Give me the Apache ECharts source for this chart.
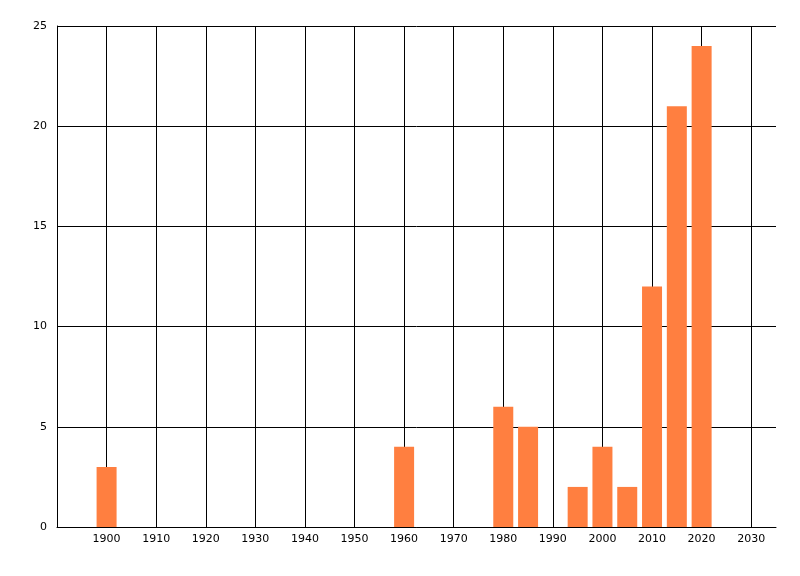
<!DOCTYPE html>
<html>
<head>
<meta charset="utf-8">
<script src="https://cdn.jsdelivr.net/npm/echarts@6/dist/echarts.min.js"></script>
<style>
  html, body { margin: 0; padding: 0; background: #fff; }
  #chart-container { width: 800px; height: 576px; }
</style>
</head>
<body>
<div id="chart-container"></div>
<script>
// years on the x axis and how many per year
var years = [1900, 1960, 1980, 1985, 1995, 2000, 2005, 2010, 2015, 2020];
var counts = [3, 4, 6, 5, 2, 4, 2, 12, 21, 24];

var barData = years.map(function (y, i) {
  return [y, counts[i]];
});

var dom = document.getElementById("chart-container");
var myChart = echarts.init(dom, null, { renderer: "canvas" });

var option = {
  animation: false,
  grid: {
    left: 57,
    right: 24,
    top: 26,
    bottom: 49,
  },
  xAxis: {
    type: "value",
    min: 1890,
    max: 2035,
    interval: 10,
    axisLine: { show: true, onZero: false, lineStyle: { color: "#000", width: 1 } },
    axisTick: { show: false },
    axisLabel: {
      color: "#000",
      fontFamily: "DejaVu Sans",
      fontSize: 11,
      margin: 7,
      showMinLabel: false,
      showMaxLabel: false,
      formatter: function (v) {
        return v <= 1890 || v > 2030 ? "" : String(v);
      },
    },
    splitLine: {
      show: true,
      showMinLine: false,
      showMaxLine: false,
      lineStyle: { color: "#000", width: 1 },
    },
  },
  yAxis: {
    type: "value",
    min: 0,
    max: 25,
    interval: 5,
    axisLine: { show: true, lineStyle: { color: "#000", width: 1 } },
    axisTick: { show: false },
    axisLabel: {
      color: "#000",
      fontFamily: "DejaVu Sans",
      fontSize: 11,
      margin: 10,
    },
    splitLine: { show: true, lineStyle: { color: "#000", width: 1 } },
  },
  series: [
    {
      type: "bar",
      data: barData,
      barWidth: 20,
      itemStyle: { color: "#ff7f40" },
    },
  ],
};

myChart.setOption(option);
window.addEventListener("resize", myChart.resize);
</script>
</body>
</html>
